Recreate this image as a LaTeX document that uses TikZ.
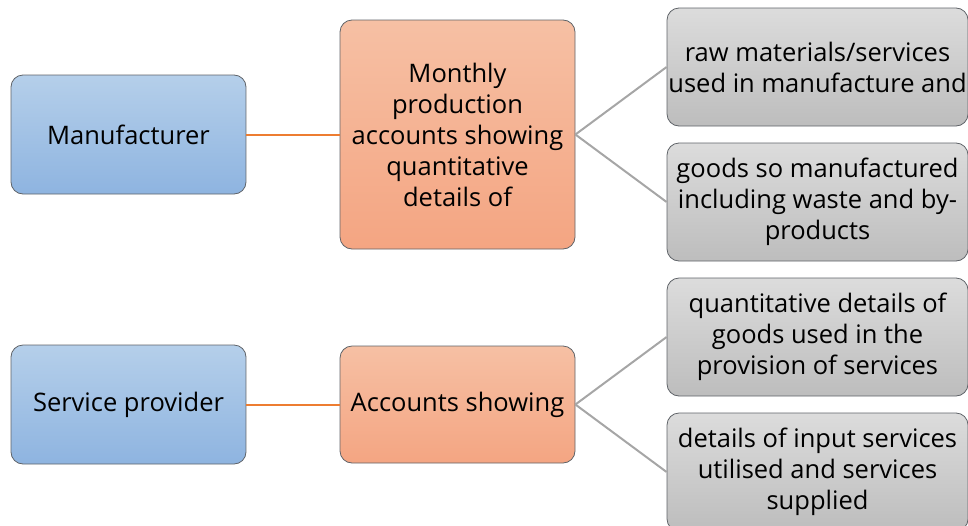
\documentclass[tikz,border=0pt]{standalone}
\usepackage{fontspec}
\setmainfont{Open Sans}
\definecolor{bluetop}{HTML}{B5CFEA}
\definecolor{bluebot}{HTML}{8EB4E0}
\definecolor{orgtop}{HTML}{F6C0A4}
\definecolor{orgbot}{HTML}{F4A582}
\definecolor{graytop}{HTML}{DCDCDC}
\definecolor{graybot}{HTML}{BDBDBD}
\definecolor{edgecol}{HTML}{5F6368}
\definecolor{orgline}{HTML}{ED7D31}
\definecolor{grayline}{HTML}{A6A6A6}
\tikzset{
  box/.style={draw=edgecol, line width=0.8pt, rounded corners=12pt, align=center,
    font=\fontsize{25.5}{31}\selectfont, inner sep=0pt},
  bluebox/.style={box, top color=bluetop, bottom color=bluebot, minimum width=235pt, minimum height=119pt},
  orgbox/.style={box, top color=orgtop, bottom color=orgbot, minimum width=235pt},
  graybox/.style={box, top color=graytop, bottom color=graybot, minimum width=301pt, minimum height=118pt},
  orglink/.style={draw=orgline, line width=2pt},
  graylink/.style={draw=grayline, line width=2pt}
}
\begin{document}
\begin{tikzpicture}[x=1pt,y=-1pt]
\useasboundingbox (0,0) rectangle (968,525);
\clip (0,0) rectangle (968,525);
\node[bluebox] (man) at (128.5,134.5) {Manufacturer};
\node[orgbox, minimum height=229pt] (mon) at (457.5,134.5) {Monthly\\production\\accounts showing\\quantitative\\details of};
\node[graybox] (g1) at (817.5,67) {raw materials/services\\used in manufacture and};
\node[graybox] (g2) at (817.5,202) {goods so manufactured\\including waste and by-\\products};
\node[bluebox] (sp) at (128.5,404.5) {Service provider};
\node[orgbox, minimum height=117pt] (acc) at (457.5,404.5) {Accounts showing};
\node[graybox] (g3) at (817.5,337) {quantitative details of\\goods used in the\\provision of services};
\node[graybox] (g4) at (817.5,472) {details of input services\\utilised and services\\supplied};
\draw[orglink] (man.east) -- (mon.west);
\draw[orglink] (sp.east) -- (acc.west);
\draw[graylink] (mon.east) -- (g1.west);
\draw[graylink] (mon.east) -- (g2.west);
\draw[graylink] (acc.east) -- (g3.west);
\draw[graylink] (acc.east) -- (g4.west);
\end{tikzpicture}
\end{document}
